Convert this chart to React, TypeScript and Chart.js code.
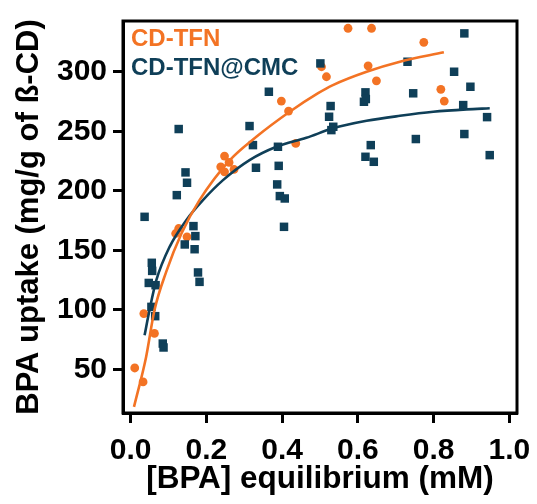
import React, { useEffect, useRef } from "react";
import { Chart, registerables } from "chart.js";

Chart.register(...registerables);

const ORANGE = "#F37324";
const DARK = "#0F3F58";

// CD-TFN measured points
const tfnX = [0.011, 0.033, 0.035, 0.063, 0.119, 0.127, 0.149, 0.238, 0.248, 0.248, 0.26, 0.273, 0.398, 0.417, 0.436, 0.504, 0.517, 0.574, 0.627, 0.636, 0.649, 0.774, 0.819, 0.828];
const tfnY = [51.3, 39.6, 97, 80.3, 164.2, 168.4, 161.4, 220.2, 229.2, 216, 223.9, 218, 275.4, 267, 239.8, 304.2, 295.8, 336.5, 305, 336.5, 292.4, 324.7, 285.2, 275.4];

// CD-TFN@CMC measured points
const cmcX = [0.037, 0.048, 0.055, 0.056, 0.057, 0.065, 0.066, 0.085, 0.087, 0.122, 0.127, 0.143, 0.145, 0.149, 0.166, 0.169, 0.171, 0.178, 0.182, 0.314, 0.323, 0.331, 0.365, 0.387, 0.389, 0.391, 0.394, 0.405, 0.407, 0.501, 0.524, 0.528, 0.53, 0.535, 0.616, 0.62, 0.62, 0.621, 0.634, 0.642, 0.731, 0.746, 0.753, 0.854, 0.878, 0.881, 0.881, 0.897, 0.941, 0.948];
const cmcY = [178.2, 122.7, 102.6, 139.6, 132.8, 94.8, 120.8, 71.8, 68.5, 196.4, 251.9, 155, 215.5, 206.8, 170.4, 151, 162, 131.5, 123.6, 254.4, 238.4, 219.4, 283.2, 205.4, 237, 221, 195.6, 169.8, 193.6, 307, 262.2, 271.2, 251, 253.8, 274.8, 282.7, 228.6, 277.1, 238.4, 224.4, 308.4, 281.9, 243.5, 300, 272, 332.2, 247.7, 287.4, 261.9, 230];

// Fit curves
const tfnFitX = [0.009, 0.041, 0.063, 0.094, 0.134, 0.182, 0.262, 0.332, 0.42, 0.495, 0.534, 0.623, 0.711, 0.827];
const tfnFitY = [18.6, 60.6, 99.8, 132, 164, 192.2, 225.8, 245.4, 266.4, 282, 288.8, 300, 308.4, 316.3];
const cmcFitX = [0.037, 0.05, 0.068, 0.103, 0.147, 0.191, 0.244, 0.314, 0.385, 0.464, 0.534, 0.623, 0.711, 0.799, 0.887, 0.948];
const cmcFitY = [78.8, 100, 125, 153, 175.4, 192.2, 209, 225.8, 237, 244.5, 252.5, 258.8, 263, 266.4, 268.4, 269.3];

const legendLabels = ["CD-TFN", "CD-TFN@CMC"];
const xTitle = "[BPA] equilibrium (mM)";
const yTitle = "BPA uptake (mg/g of ß-CD)";

const zip = (xs: number[], ys: number[]) => xs.map((x, i) => ({ x, y: ys[i] }));

const FONT = "'Liberation Sans', Arial, sans-serif";

const framePlugin = {
  id: "frame",
  afterDraw(chart: any) {
    const { ctx, chartArea } = chart;
    ctx.save();
    ctx.strokeStyle = "#000";
    ctx.lineWidth = 3;
    ctx.strokeRect(chartArea.left, chartArea.top, chartArea.right - chartArea.left, chartArea.bottom - chartArea.top);
    ctx.font = `bold 24px ${FONT}`;
    ctx.textAlign = "left";
    ctx.textBaseline = "middle";
    ctx.fillStyle = ORANGE;
    ctx.fillText(legendLabels[0], chartArea.left + 8, chartArea.top + 18);
    ctx.fillStyle = DARK;
    ctx.fillText(legendLabels[1], chartArea.left + 8, chartArea.top + 47);
    ctx.restore();
  },
};

export default function App() {
  const ref = useRef<HTMLCanvasElement>(null);
  useEffect(() => {
    if (!ref.current) return;
    const chart = new Chart(ref.current, {
      type: "scatter",
      data: {
        datasets: [
          {
            type: "line",
            label: "CD-TFN fit",
            data: zip(tfnFitX, tfnFitY),
            borderColor: ORANGE,
            borderWidth: 2.6,
            pointRadius: 0,
            fill: false,
            cubicInterpolationMode: "monotone",
            order: 1,
          } as any,
          {
            type: "line",
            label: "CD-TFN@CMC fit",
            data: zip(cmcFitX, cmcFitY),
            borderColor: DARK,
            borderWidth: 2.6,
            pointRadius: 0,
            fill: false,
            cubicInterpolationMode: "monotone",
            order: 2,
          } as any,
          {
            label: legendLabels[1],
            data: zip(cmcX, cmcY),
            pointStyle: "rect",
            pointRadius: 6,
            backgroundColor: DARK,
            borderWidth: 0,
            order: 3,
          },
          {
            label: legendLabels[0],
            data: zip(tfnX, tfnY),
            pointStyle: "circle",
            pointRadius: 4.4,
            backgroundColor: ORANGE,
            borderWidth: 0,
            order: 4,
          },
        ],
      },
      options: {
        responsive: false,
        animation: false,
        layout: { padding: { top: 13, right: 12, left: 0, bottom: 0 } },
        plugins: { legend: { display: false }, tooltip: { enabled: false } },
        scales: {
          x: {
            type: "linear",
            min: -0.02,
            max: 1.02,
            afterFit: (s: any) => {
              s.height = 83;
              s.paddingLeft = 0;
              s.paddingRight = 0;
            },
            border: { display: true, color: "#000", width: 3 },
            grid: { display: true, drawOnChartArea: false, drawTicks: true, tickLength: 10, tickWidth: 3, tickColor: "#000" },
            ticks: {
              stepSize: 0.2,
              includeBounds: false,
              color: "#000",
              padding: 16,
              font: { family: FONT, size: 30, weight: "bold", lineHeight: 0.8 },
              callback: (v: any) => Number(v).toFixed(1),
            },
            title: {
              display: true,
              text: xTitle,
              color: "#000",
              font: { family: FONT, size: 31.5, weight: "bold", lineHeight: 1 },
              padding: { top: 0, bottom: 0.5 },
            },
          },
          y: {
            type: "linear",
            min: 13.5,
            max: 342.6,
            afterFit: (s: any) => {
              s.width = 115;
              s.paddingTop = 0;
              s.paddingBottom = 0;
            },
            border: { display: true, color: "#000", width: 3 },
            grid: { display: true, drawOnChartArea: false, drawTicks: true, tickLength: 10, tickWidth: 3, tickColor: "#000" },
            ticks: {
              stepSize: 50,
              includeBounds: false,
              color: "#000",
              padding: 6,
              font: { family: FONT, size: 30, weight: "bold", lineHeight: 0.8 },
            },
            title: {
              display: true,
              text: yTitle,
              color: "#000",
              font: { family: FONT, size: 31, weight: "bold", lineHeight: 1 },
              padding: { top: 6, bottom: 0 },
            },
          },
        },
      },
      plugins: [framePlugin],
    } as any);
    return () => chart.destroy();
  }, []);
  return (
    <div style={{ width: 521, height: 488 }}>
      <canvas ref={ref} width={521} height={488} style={{ display: "block" }} />
    </div>
  );
}
